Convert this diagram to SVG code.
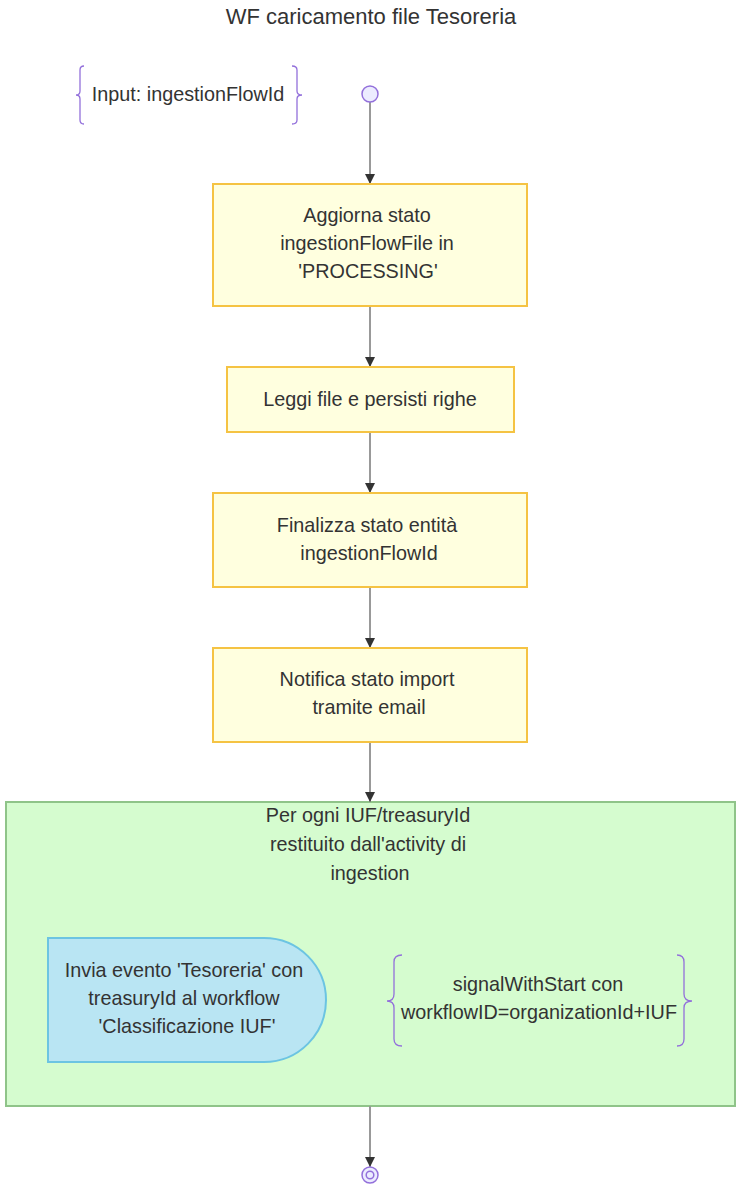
<svg xmlns="http://www.w3.org/2000/svg" width="742" height="1188" viewBox="0 0 742 1188">
  <defs>
    <marker id="arrow" viewBox="0 0 10 10" refX="10" refY="5" markerWidth="10" markerHeight="10" markerUnits="userSpaceOnUse" orient="auto">
      <path d="M0,0 L10,5 L0,10 Z" fill="#333333"/>
    </marker>
    <style>
      text { font-family: "Liberation Sans", Arial, sans-serif; fill: #333333; font-size: 19.8px; text-anchor: middle; }
      .title { font-size: 22px; }
      .task { fill: #FFFFDF; stroke: #F5C343; stroke-width: 2; }
      .cluster { fill: #D5FCCF; stroke: #8FC489; stroke-width: 2; }
      .event { fill: #B9E5F3; stroke: #6CC4E2; stroke-width: 2; }
      .brace { fill: none; stroke: #9370DB; stroke-width: 1.3; }
      .state { fill: #ECECFF; stroke: #9370DB; stroke-width: 1.5; }
      .edge { fill: none; stroke: #999999; stroke-width: 2; marker-end: url(#arrow); }
    </style>
  </defs>

  <text class="title" x="371" y="24">WF caricamento file Tesoreria</text>

  <!-- loop container -->
  <g id="loop">
    <rect class="cluster" x="6" y="802" width="729" height="304"/>
    <text x="368" y="822">Per ogni IUF/treasuryId</text>
    <text x="368" y="851">restituito dall'activity di</text>
    <text x="370" y="880">ingestion</text>
  </g>

  <!-- connectors -->
  <g id="edges">
    <path class="edge" d="M370,102 L370,184"/>
    <path class="edge" d="M370,306 L370,367"/>
    <path class="edge" d="M370,432 L370,493"/>
    <path class="edge" d="M370,587 L370,648"/>
    <path class="edge" d="M370,742 L370,802"/>
    <path class="edge" d="M370,1106 L370,1167"/>
  </g>

  <g id="input-note">
    <path class="brace" d="M84,66 Q80,66 80,70 L80,91 Q80,95 76,95 Q80,95 80,99 L80,120 Q80,124 84,124"/>
    <path class="brace" d="M292,66 Q297,66 297,70 L297,91 Q297,95 302,95 Q297,95 297,99 L297,120 Q297,124 292,124"/>
    <text x="188" y="101">Input: ingestionFlowId</text>
  </g>

  <g id="start">
    <circle class="state" cx="370" cy="94" r="8"/>
  </g>

  <g id="aggiorna-stato">
    <rect class="task" x="213" y="184" width="314" height="122"/>
    <text x="367" y="222">Aggiorna stato</text>
    <text x="367" y="250">ingestionFlowFile in</text>
    <text x="368" y="278">'PROCESSING'</text>
  </g>

  <g id="leggi-file">
    <rect class="task" x="227" y="367" width="287" height="65"/>
    <text x="370" y="406">Leggi file e persisti righe</text>
  </g>

  <g id="finalizza-stato">
    <rect class="task" x="213" y="493" width="314" height="94"/>
    <text x="367" y="532">Finalizza stato entità</text>
    <text x="369" y="560">ingestionFlowId</text>
  </g>

  <g id="notifica">
    <rect class="task" x="213" y="648" width="314" height="94"/>
    <text x="367" y="686">Notifica stato import</text>
    <text x="369" y="714">tramite email</text>
  </g>

  <g id="invia-evento">
    <path class="event" d="M48,938 H264 A62,62 0 0 1 264,1062 H48 Z"/>
    <text x="184" y="977">Invia evento 'Tesoreria' con</text>
    <text x="184" y="1005">treasuryId al workflow</text>
    <text x="187" y="1033">'Classificazione IUF'</text>
  </g>

  <g id="signal-note">
    <path class="brace" d="M402,955 Q394,955 394,962 L394,994 Q394,1001 387,1001 Q394,1001 394,1008 L394,1039 Q394,1046 402,1046"/>
    <path class="brace" d="M677,955 Q684,955 684,962 L684,994 Q684,1001 692,1001 Q684,1001 684,1008 L684,1039 Q684,1046 677,1046"/>
    <text x="538" y="991">signalWithStart con</text>
    <text x="539" y="1019">workflowID=organizationId+IUF</text>
  </g>

  <g id="end">
    <circle class="state" cx="370" cy="1175" r="8"/>
    <circle class="state" cx="370" cy="1175" r="3.8"/>
  </g>
</svg>
